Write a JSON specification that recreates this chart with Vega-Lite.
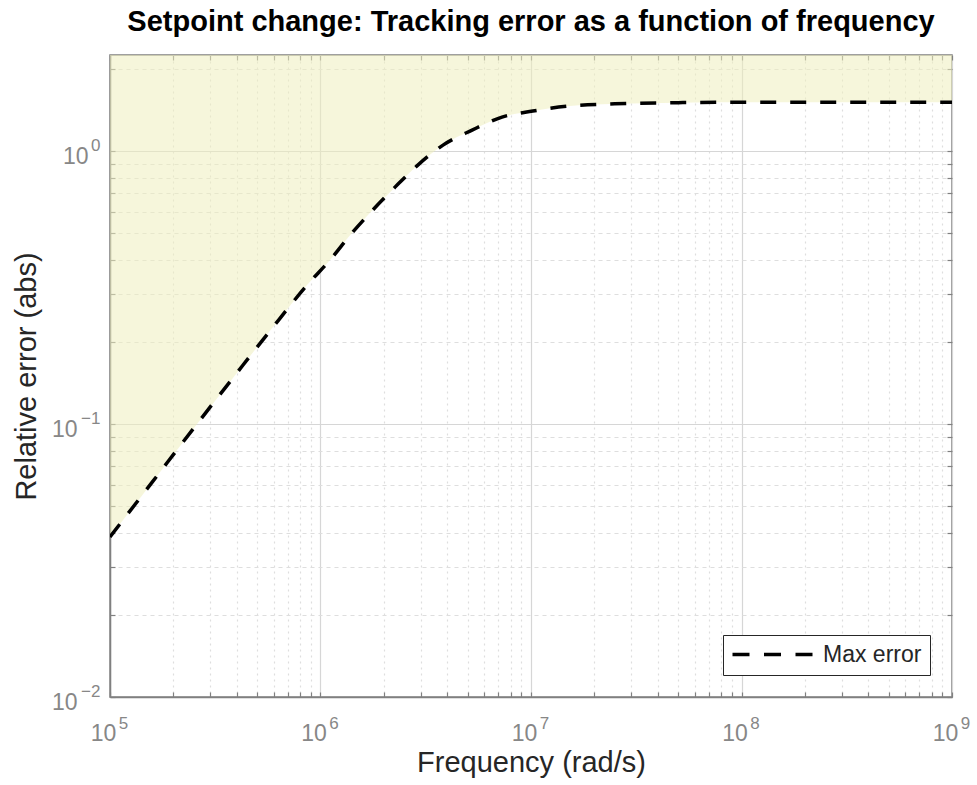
{
  "$schema": "https://vega.github.io/schema/vega-lite/v6.json",
  "autosize": {"type": "none"},
  "padding": {"left": 110, "top": 55, "right": 25, "bottom": 88},
  "width": 842,
  "height": 642,
  "background": "white",
  "title": {
    "text": "Setpoint change: Tracking error as a function of frequency",
    "font": "Liberation Sans",
    "fontSize": 29,
    "fontWeight": "bold",
    "color": "#000000",
    "baseline": "alphabetic",
    "offset": -6,
    "anchor": "middle"
  },
  "data": {
    "values": [
      {"f": 100000, "err": 0.0386},
      {"f": 158000, "err": 0.061},
      {"f": 251000, "err": 0.097},
      {"f": 398000, "err": 0.153},
      {"f": 631000, "err": 0.24},
      {"f": 863000, "err": 0.323},
      {"f": 1110000, "err": 0.399},
      {"f": 1410000, "err": 0.501},
      {"f": 1770000, "err": 0.608},
      {"f": 2260000, "err": 0.738},
      {"f": 2900000, "err": 0.889},
      {"f": 3820000, "err": 1.052},
      {"f": 5250000, "err": 1.194},
      {"f": 7280000, "err": 1.333},
      {"f": 10200000, "err": 1.402},
      {"f": 14800000, "err": 1.46},
      {"f": 25000000, "err": 1.49},
      {"f": 50000000, "err": 1.505},
      {"f": 100000000, "err": 1.51},
      {"f": 1000000000, "err": 1.51}
    ]
  },
  "layer": [
    {
      "mark": {"type": "area", "color": "#EFEFBD", "opacity": 0.55, "clip": true, "interpolate": "monotone"},
      "encoding": {
        "x": {
          "field": "f", "type": "quantitative",
          "scale": {"type": "log", "domain": [100000, 1000000000], "nice": false},
          "axis": {
            "orient": "bottom",
            "title": "Frequency (rad/s)",
            "values": [100000,200000,300000,400000,500000,600000,700000,800000,900000,1000000,2000000,3000000,4000000,5000000,6000000,7000000,8000000,9000000,10000000,20000000,30000000,40000000,50000000,60000000,70000000,80000000,90000000,100000000,200000000,300000000,400000000,500000000,600000000,700000000,800000000,900000000,1000000000],
            "labelExpr": "indexof([100000,1000000,10000000,100000000,1000000000], datum.value) >= 0 ? '10' : ''",
            "labelFlush": false,
            "labelOverlap": false,
            "labelBound": false,
            "labelPadding": 30,
            "labelOffset": -7,
            "grid": true,
            "gridColor": {"condition": {"test": "indexof([100000,1000000,10000000,100000000,1000000000], datum.value) >= 0", "value": "#d6d6d6"}, "value": "#dedede"},
            "gridDash": {"condition": {"test": "indexof([100000,1000000,10000000,100000000,1000000000], datum.value) >= 0", "value": []}, "value": [2, 4]},
            "gridWidth": 1.2,
            "tickSize": -5,
            "titlePadding": 3
          }
        },
        "y": {
          "field": "err", "type": "quantitative",
          "scale": {"type": "log", "domain": [0.01, 2.25], "nice": false},
          "axis": {
            "orient": "left",
            "title": "Relative error (abs)",
            "values": [0.01,0.02,0.03,0.04,0.05,0.06,0.07,0.08,0.09,0.1,0.2,0.3,0.4,0.5,0.6,0.7,0.8,0.9,1,2],
            "labelExpr": "indexof([0.01,0.1,1], datum.value) >= 0 ? '10' : ''",
            "labelOverlap": false,
            "labelBound": false,
            "labelFlush": false,
            "labelPadding": {"condition": {"test": "datum.value == 1", "value": 27}, "value": 38},
            "labelOffset": 5,
            "grid": true,
            "gridColor": {"condition": {"test": "indexof([0.01,0.1,1], datum.value) >= 0", "value": "#d6d6d6"}, "value": "#dedede"},
            "gridDash": {"condition": {"test": "indexof([0.01,0.1,1], datum.value) >= 0", "value": []}, "value": [4, 4]},
            "gridWidth": 1.2,
            "tickSize": -5,
            "titlePadding": 10
          }
        },
        "y2": {"datum": 3}
      }
    },
    {
      "mark": {"type": "line", "strokeOpacity": 0, "clip": true},
      "encoding": {
        "x": {
          "field": "f", "type": "quantitative",
          "axis": {
            "orient": "bottom", "title": null, "grid": false, "domain": false, "ticks": false,
            "values": [100000,1000000,10000000,100000000,1000000000],
            "labelExpr": "datum.value == 100000 ? '5' : datum.value == 1000000 ? '6' : datum.value == 10000000 ? '7' : datum.value == 100000000 ? '8' : datum.value == 1000000000 ? '9' : ''",
            "labelFontSize": 17,
            "labelFlush": false,
            "labelOverlap": false,
            "labelBound": false,
            "labelPadding": 18,
            "labelOffset": 13
          }
        },
        "y": {
          "field": "err", "type": "quantitative",
          "axis": {
            "orient": "left", "title": null, "grid": false, "domain": false, "ticks": false,
            "values": [0.01, 0.1, 1],
            "labelExpr": "datum.value == 0.01 ? '−2' : datum.value == 0.1 ? '−1' : datum.value == 1 ? '0' : ''",
            "labelFontSize": 17,
            "labelFlush": false,
            "labelOverlap": false,
            "labelBound": false,
            "labelPadding": 10,
            "labelOffset": -6
          }
        }
      }
    },
    {
      "mark": {"type": "line", "strokeDash": [16, 14], "strokeWidth": 3.5, "clip": true, "interpolate": "monotone"},
      "encoding": {
        "x": {
          "field": "f", "type": "quantitative",
          "axis": {
            "orient": "top", "title": null, "labels": false, "grid": false, "domain": false,
            "values": [100000,200000,300000,400000,500000,600000,700000,800000,900000,1000000,2000000,3000000,4000000,5000000,6000000,7000000,8000000,9000000,10000000,20000000,30000000,40000000,50000000,60000000,70000000,80000000,90000000,100000000,200000000,300000000,400000000,500000000,600000000,700000000,800000000,900000000,1000000000],
            "tickSize": -5
          }
        },
        "y": {
          "field": "err", "type": "quantitative",
          "axis": {
            "orient": "right", "title": null, "labels": false, "grid": false, "domain": false,
            "values": [0.01,0.02,0.03,0.04,0.05,0.06,0.07,0.08,0.09,0.1,0.2,0.3,0.4,0.5,0.6,0.7,0.8,0.9,1,2],
            "tickSize": -5
          }
        },
        "color": {
          "datum": "Max error",
          "type": "nominal",
          "scale": {"range": ["#000000"]},
          "legend": {
            "title": null,
            "orient": "bottom-right",
            "offset": 22,
            "strokeColor": "#262626",
            "fillColor": "#ffffff",
            "padding": 8,
            "labelFont": "Liberation Sans",
            "labelFontSize": 23,
            "labelColor": "#262626",
            "symbolType": "M-16,0L0,0",
            "symbolSize": 100,
            "symbolStrokeWidth": 3.5,
            "symbolDash": [17, 14.5],
            "symbolOffset": 70,
            "labelOffset": -1
          }
        }
      }
    }
  ],
  "resolve": {"axis": {"x": "independent", "y": "independent"}},
  "config": {
    "view": {"stroke": "#808080", "strokeWidth": 1.5},
    "axis": {
      "labelFont": "Liberation Sans",
      "labelFontSize": 23,
      "labelColor": "#878787",
      "titleFont": "Liberation Sans",
      "titleFontSize": 29,
      "titleFontWeight": "normal",
      "titleColor": "#262626",
      "domainColor": "#808080",
      "domainWidth": 1.5,
      "tickColor": "#808080",
      "tickWidth": 1.2
    }
  }
}
